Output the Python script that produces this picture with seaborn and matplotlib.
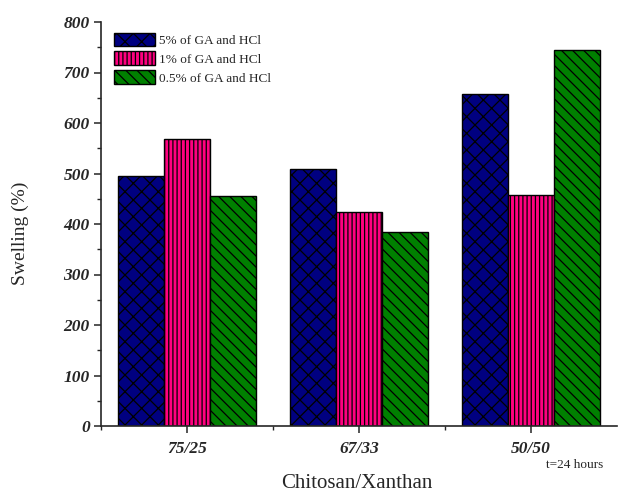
import matplotlib
matplotlib.use("Agg")
import matplotlib.pyplot as plt
from matplotlib.ticker import MultipleLocator, FixedLocator
import numpy as np
import pandas as pd
import seaborn as sns

# Swelling data after 24 h for three chitosan/xanthan ratios
ratios = ["75/25", "67/33", "50/50"]
conc_labels = ["5% of GA and HCl", "1% of GA and HCl", "0.5% of GA and HCl"]
swell_5pct = [496, 508, 657]
swell_1pct = [568, 423, 457]
swell_05pct = [455, 385, 745]

colors = ["#000080", "#FF0080", "#008000"]
hatches = ["xx", "||||", "\\\\\\"]

df = pd.DataFrame({
    "ratio": ratios * 3,
    "conc": [c for c in conc_labels for _ in ratios],
    "swelling": swell_5pct + swell_1pct + swell_05pct,
})

sns.set_style("ticks")
plt.rcParams["font.family"] = ["Liberation Serif", "DejaVu Serif"]
plt.rcParams["hatch.linewidth"] = 0.9
plt.rcParams["hatch.color"] = "black"

fig = plt.figure(figsize=(6.21, 4.95), dpi=100)
ax = fig.add_axes([101 / 621, 1 - 426 / 495, 516 / 621, 404 / 495])

sns.barplot(data=df, x="ratio", y="swelling", hue="conc", order=ratios,
            hue_order=conc_labels, palette=colors, width=0.8,
            edgecolor="black", linewidth=1.0, saturation=1, legend=False,
            errorbar=None, ax=ax)

for cont, h in zip(ax.containers, hatches):
    for bar in cont:
        bar.set_hatch(h)

ax.set_xlim(-0.5, 2.5)
ax.set_ylim(0, 800)
ax.yaxis.set_major_locator(MultipleLocator(100))
ax.yaxis.set_minor_locator(MultipleLocator(50))
ax.xaxis.set_minor_locator(FixedLocator([-0.5, 0.5, 1.5]))

for side in ("top", "right"):
    ax.spines[side].set_visible(False)
for side in ("left", "bottom"):
    ax.spines[side].set_linewidth(1.2)

ax.tick_params(axis="both", which="major", direction="out", length=5, width=1.1)
ax.tick_params(axis="both", which="minor", direction="out", length=3, width=1.0)
ax.tick_params(axis="y", pad=3)
ax.tick_params(axis="x", pad=6)

for lab in ax.get_yticklabels():
    lab.set_fontsize(12.5)
    lab.set_fontweight("bold")
    lab.set_fontstyle("italic")
for lab in ax.get_xticklabels():
    lab.set_fontsize(12.5)
    lab.set_fontweight("bold")
    lab.set_fontstyle("italic")

ax.set_xlabel("")
ax.set_ylabel("")
fig.text(20 / 621, 1 - 233 / 495, "Swelling (%)", rotation=90, fontsize=14,
         ha="center", va="center")
fig.text(357 / 621, 1 - 483 / 495, "Chitosan/Xanthan", fontsize=15,
         ha="center", va="center")
fig.text(603 / 621, 1 - 465 / 495, "t=24 hours", fontsize=9.5,
         ha="right", va="center")

ax.legend(ax.containers, conc_labels, loc="upper left",
          bbox_to_anchor=(10 / 516, 1.0 - 8 / 404), frameon=False,
          fontsize=9.5, handlelength=3.1, handleheight=1.2,
          handletextpad=0.35, labelspacing=0.35, borderpad=0.2,
          borderaxespad=0)

fig.savefig("out.png", dpi=100)
